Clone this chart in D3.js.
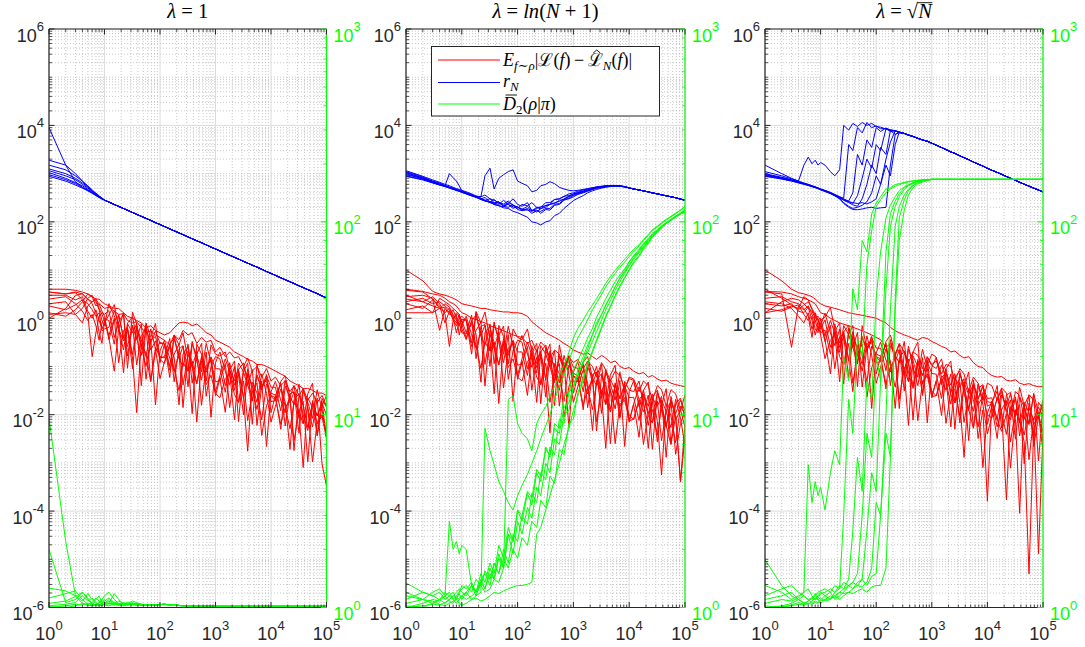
<!DOCTYPE html>
<html>
<head>
<meta charset="utf-8">
<script src="https://cdn.jsdelivr.net/npm/d3@7"></script>
<style>
  html, body { margin: 0; padding: 0; background: #fff; }
  svg { display: block; }
</style>
</head>
<body>
<svg id="fig" width="1085" height="647"></svg>
<script>
// Sample sizes N at which every run was recorded
const sizes = [1,2,3,4,5,6,7,8,9,10,
  12,15,18,22,26,32,38,46,56,68,83,100,
  120,150,180,220,260,320,380,460,560,680,830,1000,
  1200,1500,1800,2200,2600,3200,3800,4600,5600,6800,8300,10000,
  12000,15000,18000,22000,26000,32000,38000,46000,56000,68000,83000,100000];

const leftTicks = [1e-6, 1e-4, 1e-2, 1, 1e2, 1e4, 1e6];
const rightTicks = [1, 10, 100, 1000];
const bottomTicks = [1, 10, 100, 1000, 10000, 100000];

// ---------- λ = 1 ----------
// generalisation gap E|L(f) - L_N(f)|, one row per run
const gap1 = [
[4,4,3.8,3.5,3.2,2.8,2.5,2.5,2.2,2, 1.8,1.6,1.6,1.3,1.1,1,0.9,0.8,0.63,0.7,0.56,0.5, 0.45,0.5,0.63,0.8,0.83,0.8,0.7,0.76,0.63,0.5,0.45,0.35, 0.32,0.28,0.25,0.2,0.18,0.16,0.14,0.13,0.11,0.11,0.1,0.09, 0.08,0.07,0.063,0.05,0.045,0.04,0.035,0.035,0.032,0.028,0.028,0.025],
[3.5,3.2,3.5,3.2,2.5,2.2,2.4,2,1.8,1.6, 1.7,1.4,1.2,1.25,0.9,0.8,0.85,0.63,0.5,0.55,0.45,0.4, 0.35,0.28,0.45,0.36,0.56,0.45,0.5,0.3,0.4,0.32,0.35,0.2, 0.25,0.16,0.2,0.15,0.16,0.1,0.15,0.08,0.1,0.06,0.09,0.05, 0.06,0.04,0.05,0.03,0.04,0.025,0.035,0.02,0.028,0.018,0.025,0.015],
[3.5,3.2,3.4,2.4,1.2,0.16,0.5,1.1,1.3,1.2, 1.44,0.4,0.84,1.24,0.165,0.7,0.36,0.76,0.054,0.35,0.42,0.15, 0.16,0.38,0.048,0.23,0.27,0.08,0.33,0.126,0.052,0.2,0.0088,0.12, 0.2,0.08,0.042,0.1,0.0072,0.1,0.06,0.02,0.064,0.033,0.068,0.011, 0.025,0.005,0.039,0.023,0.04,0.01,0.0008,0.0225,0.014,0.0039,0.0216,0.0143],
[1.0,1.6,3.0,3.2,2.5,2.0,1.3,0.5,0.3,0.9, 0.44,1.0,0.12,0.56,0.62,0.175,0.69,0.25,0.1,0.38,0.016,0.21, 0.35,0.147,0.08,0.19,0.014,0.21,0.126,0.044,0.146,0.076,0.154,0.0245, 0.057,0.0112,0.083,0.05,0.088,0.023,0.00175,0.047,0.028,0.0078,0.043,0.028, 0.0255,0.042,0.0145,0.0051,0.0186,0.0119,0.019,0.00105,0.0196,0.0064,0.01,0.0042],
[1.2,1.3,1.2,1.6,2.6,3.0,2.2,1.5,0.9,0.7, 2.0,1.12,0.59,1.3,0.092,1.33,0.76,0.25,0.8,0.4,0.78,0.12, 0.29,0.059,0.45,0.28,0.5,0.134,0.0105,0.29,0.18,0.05,0.28,0.18, 0.164,0.2,0.088,0.032,0.118,0.077,0.119,0.0063,0.112,0.036,0.057,0.024, 0.0196,0.049,0.064,0.0235,0.016,0.043,0.0067,0.027,0.045,0.0036,0.015,0.025],
[2.0,2.2,1.2,0.8,1.8,2.2,2.6,1.6,1.2,0.9, 0.4,0.08,0.6,0.34,0.58,0.15,0.011,0.3,0.18,0.048,0.25,0.16, 0.15,0.25,0.086,0.0315,0.12,0.08,0.128,0.007,0.13,0.042,0.066,0.0275, 0.0225,0.056,0.07,0.026,0.018,0.05,0.0075,0.029,0.046,0.0037,0.0153,0.025, 0.0224,0.0063,0.0138,0.021,0.0029,0.012,0.0064,0.0143,0.00105,0.0072,0.009,0.0033],
[3.0,3.0,2.4,2.8,1.4,1.0,1.5,0.9,0.6,0.8, 1.17,1.92,0.63,0.22,0.77,0.5,0.77,0.04,0.72,0.22,0.34,0.14, 0.115,0.29,0.38,0.144,0.1,0.29,0.045,0.18,0.3,0.024,0.1,0.16, 0.144,0.04,0.084,0.13,0.018,0.077,0.04,0.086,0.006,0.041,0.051,0.0186, 0.0196,0.045,0.0058,0.027,0.03,0.0085,0.035,0.0135,0.0056,0.022,0.00096,0.00033],
[1.3,1.1,1.5,2.2,3.2,2.8,1.8,2.0,1.4,1.1, 0.36,0.9,1.12,0.4,0.26,0.72,0.108,0.42,0.66,0.051,0.2,0.32, 0.29,0.084,0.18,0.29,0.041,0.18,0.096,0.21,0.0156,0.106,0.132,0.048, 0.05,0.115,0.014,0.068,0.077,0.022,0.088,0.032,0.0128,0.05,0.0022,0.03, 0.049,0.02,0.011,0.025,0.0018,0.026,0.0154,0.0054,0.018,0.0094,0.019,0.0031],
[2.5,2.8,2.0,1.4,0.9,1.2,0.7,0.35,0.8,1.0, 0.89,0.29,1.2,0.39,0.64,0.09,0.65,0.36,0.16,0.6,0.23,0.056, 0.124,0.28,0.154,0.016,0.18,0.26,0.095,0.044,0.164,0.086,0.158,0.09, 0.089,0.029,0.12,0.041,0.07,0.0099,0.072,0.04,0.018,0.07,0.0275,0.007, 0.015,0.034,0.0186,0.0019,0.0205,0.0275,0.01,0.0047,0.0176,0.0094,0.0173,0.0099],
[1.8,1.5,1.9,2.4,2.0,1.5,1.1,1.3,0.55,0.6, 0.65,1.44,0.76,0.074,0.79,1.08,0.38,0.17,0.6,0.31,0.54,0.3, 0.3,0.1,0.43,0.15,0.265,0.038,0.29,0.168,0.078,0.3,0.119,0.03, 0.065,0.144,0.076,0.0078,0.086,0.119,0.042,0.019,0.067,0.0355,0.065,0.037, 0.037,0.012,0.052,0.0176,0.0296,0.0041,0.0307,0.018,0.0084,0.0328,0.013,0.0033]
];
// r_N: early values per run, then the common path from N = 10
const radius1Heads = [
[9000,1500,680,520,450,400,360,330,305],
[1900,1500,1000,700,520,430,380,340,310],
[1500,1200,900,700,560,460,390,345,312],
[1250,1000,800,640,530,440,390,340,308],
[1150,900,750,600,500,430,370,330,305],
[1050,800,650,560,470,410,360,330,300],
[950,750,620,520,450,400,355,320,300],
[880,700,580,500,440,390,350,320,295]
];
const radius1Tail = [282,257,229,209,189,174,156,143,130,118,107,96,88,
  80,71.3,65.1,58.9,54.2,48.6,44.5,40.5,36.8,33.3,29.9,27.4,
  24.9,22.2,20.3,18.3,16.9,15.1,13.9,12.6,11.5,10.4,9.3,8.5,
  7.76,6.9,6.3,5.7,5.26,4.7,4.33,3.93,3.57,3.24,2.9,2.65];
// D2(rho|pi) on the right axis: early values per run, then a common tail from N = 83
const div1Heads = [
[9.6,2.2,1.15,1.05,1.03,1.02,1.04,1.06,1.1,1.15,1.2,1.1,1.05,1.04,1.05,1.08,1.06,1.04,1.03,1.03],
[2.0,1.06,1.1,1.2,1.12,1.05,1.03,1.02,1.04,1.08,1.12,1.06,1.04,1.06,1.04,1.05,1.04,1.03,1.03,1.03],
[1.26,1.22,1.15,1.08,1.18,1.1,1.05,1.03,1.05,1.1,1.05,1.03,1.08,1.05,1.03,1.04,1.05,1.04,1.03,1.03],
[1.12,1.18,1.22,1.1,1.04,1.06,1.12,1.08,1.04,1.03,1.05,1.18,1.1,1.04,1.03,1.06,1.04,1.03,1.03,1.03],
[1.05,1.08,1.14,1.2,1.1,1.04,1.03,1.05,1.1,1.06,1.04,1.06,1.05,1.03,1.04,1.03,1.03,1.04,1.03,1.03],
[1.02,1.04,1.06,1.15,1.08,1.12,1.06,1.03,1.02,1.04,1.08,1.04,1.03,1.05,1.06,1.04,1.03,1.03,1.03,1.03],
[1.0,1.02,1.04,1.03,1.05,1.03,1.1,1.15,1.06,1.03,1.02,1.04,1.03,1.03,1.04,1.05,1.04,1.03,1.03,1.03],
[1.01,1.0,1.02,1.05,1.03,1.02,1.03,1.04,1.02,1.05,1.1,1.05,1.03,1.02,1.03,1.04,1.03,1.03,1.03,1.03]
];
const div1Tail = [1.03,1.035,1.04,1.03,1.035,1.025,1.02,1.022,1.018,1.02,1.017,1.016,1.016,
  1.015,1.015,1.015,1.015,1.015,1.015,1.015,1.015,1.015,1.015,1.015,1.015,1.015,
  1.015,1.015,1.015,1.015,1.015,1.015,1.015,1.015,1.015,1.015,1.015,1.015];

// ---------- λ = ln(N+1) ----------
const gap2 = [
[10,6,3.6,3.2,3.0,2.8,2.6,2.4,2.2,2.0, 1.9,1.8,1.7,1.6,1.6,1.5,1.45,1.4,1.35,1.35,1.3,1.3, 1.25,1.1,0.85,0.7,0.6,0.5,0.45,0.4,0.35,0.3,0.26,0.22, 0.2,0.18,0.19,0.16,0.14,0.17,0.15,0.12,0.13,0.1,0.09,0.095, 0.08,0.07,0.075,0.06,0.065,0.055,0.05,0.052,0.045,0.042,0.04,0.038],
[4,3.6,3.2,3.0,2.6,2.2,2.0,1.8,1.5,1.3, 1.2,1.0,0.95,0.85,0.8,0.7,0.65,0.6,0.55,0.5,0.45,0.42, 0.4,0.3,0.35,0.2,0.32,0.25,0.15,0.22,0.18,0.1,0.16,0.12, 0.14,0.09,0.13,0.1,0.06,0.12,0.085,0.05,0.08,0.065,0.035,0.06, 0.055,0.03,0.05,0.04,0.02,0.04,0.033,0.015,0.033,0.027,0.012,0.026],
[3.8,3.5,2.5,0.56,1.6,1.2,1.5,1.0,0.7,0.9, 0.5,1.17,0.145,0.68,0.74,0.21,0.84,0.31,0.12,0.46,0.019,0.26, 0.44,0.18,0.096,0.225,0.0168,0.25,0.144,0.05,0.16,0.081,0.17,0.028, 0.063,0.0126,0.097,0.057,0.1,0.026,0.002,0.054,0.033,0.009,0.049,0.0325, 0.03,0.05,0.017,0.006,0.0224,0.015,0.024,0.0013,0.024,0.0077,0.0126,0.0055],
[3.0,2.2,2.8,2.0,1.2,0.26,0.9,1.3,1.1,0.7, 1.1,0.455,0.24,0.55,0.039,0.56,0.32,0.107,0.34,0.17,0.34,0.054, 0.126,0.025,0.19,0.1155,0.206,0.055,0.0042,0.1155,0.07,0.019,0.107,0.073, 0.064,0.106,0.036,0.0127,0.047,0.031,0.048,0.0025,0.046,0.0147,0.0227,0.0096, 0.008,0.0206,0.0266,0.0095,0.0067,0.019,0.0029,0.0118,0.0193,0.0015,0.0066,0.0112],
[2.2,2.6,2.0,2.2,1.8,1.5,0.9,0.7,1.0,1.1, 0.9,0.18,1.38,0.8,1.35,0.35,0.027,0.71,0.42,0.113,0.6,0.4, 0.36,0.6,0.2,0.074,0.27,0.18,0.29,0.0154,0.28,0.088,0.143,0.062, 0.049,0.123,0.16,0.058,0.04,0.11,0.0168,0.066,0.106,0.0084,0.034,0.056, 0.0515,0.0147,0.032,0.0476,0.0067,0.0294,0.0157,0.0346,0.0025,0.017,0.022,0.0084],
[1.5,1.8,1.3,1.6,2.0,1.7,1.2,0.9,0.8,0.5, 0.47,0.78,0.26,0.091,0.32,0.21,0.32,0.017,0.3,0.095,0.144,0.06, 0.05,0.126,0.16,0.06,0.042,0.117,0.018,0.0715,0.115,0.009,0.038,0.064, 0.056,0.0158,0.034,0.052,0.0072,0.031,0.016,0.034,0.0025,0.0165,0.02,0.0075, 0.008,0.019,0.0024,0.011,0.0128,0.0038,0.0154,0.0059,0.0024,0.0094,0.00042,0.006],
[1.3,1.3,1.3,2.6,2.2,1.9,1.6,1.4,1.2,0.6, 0.36,0.91,1.16,0.42,0.28,0.76,0.114,0.44,0.69,0.054,0.216,0.35, 0.32,0.09,0.19,0.3,0.042,0.18,0.096,0.21,0.015,0.1,0.128,0.048, 0.049,0.113,0.014,0.068,0.077,0.022,0.088,0.032,0.0132,0.051,0.0022,0.03, 0.05,0.021,0.0114,0.0255,0.0019,0.0285,0.0168,0.0059,0.019,0.0099,0.0004,0.0035],
[2.5,2.2,1.8,1.6,1.3,1.6,1.1,0.5,0.85,0.95, 0.92,0.26,0.56,0.83,0.11,0.47,0.24,0.52,0.036,0.24,0.29,0.106, 0.112,0.26,0.032,0.156,0.18,0.052,0.21,0.079,0.032,0.122,0.0054,0.077, 0.123,0.05,0.027,0.062,0.0046,0.067,0.038,0.013,0.042,0.0216,0.043,0.007, 0.0166,0.0034,0.026,0.015,0.027,0.0072,0.00056,0.0156,0.0096,0.0026,0.015,0.0104],
[2.0,1.6,2.4,1.8,0.8,1.4,1.0,1.2,0.45,0.75, 0.39,0.88,0.47,0.047,0.5,0.68,0.24,0.107,0.38,0.194,0.35,0.2, 0.2,0.065,0.27,0.095,0.164,0.023,0.173,0.099,0.045,0.17,0.069,0.018, 0.038,0.085,0.046,0.0047,0.052,0.071,0.025,0.0113,0.042,0.0216,0.039,0.0225, 0.023,0.0076,0.0325,0.0107,0.0187,0.0027,0.02,0.0117,0.0054,0.0208,0.0085,0.00225],
[2.8,3.0,2.6,1.6,1.7,1.3,1.0,0.8,1.2,0.85, 0.95,0.31,1.32,0.44,0.72,0.1,0.73,0.41,0.18,0.68,0.26,0.066, 0.144,0.32,0.173,0.018,0.2,0.28,0.1,0.046,0.168,0.086,0.163,0.096, 0.092,0.03,0.13,0.044,0.075,0.0106,0.077,0.043,0.02,0.076,0.029,0.0075, 0.0166,0.038,0.0205,0.002,0.023,0.0324,0.0118,0.0055,0.02,0.0106,0.02,0.012]
];
// r_N per run up to N = 1e4, then the shared path
const radius2Heads = [
[900,760,650,580,540,500,470,450,430,410, 380,345,330,290,270,260,228,215,195,190,165,155, 140,125,100,95,86,100,105,135,150,190,230,275, 310,350,400,440,470,500,520,540,550,545,530,505],
[1100,850,700,640,560,1000,820,700,560,440, 400,370,330,310,280,300,250,260,215,230,190,210, 170,180,150,170,165,190,190,230,240,290,300,330, 370,400,430,470,500,520,540,555,560,555,535,505],
[1050,820,680,610,560,520,490,465,445,425, 395,360,335,330,900,1300,480,800,950,1100,1200,700, 630,560,420,450,560,600,680,620,520,480,450,440, 450,470,490,510,530,545,555,565,565,555,535,505],
[1150,880,740,660,600,560,520,490,470,450, 420,380,345,330,360,300,280,250,235,270,220,200, 185,175,165,190,205,215,230,250,265,300,340,380, 410,440,470,500,525,545,560,570,570,560,540,510],
[950,800,690,610,570,530,500,470,450,425, 395,355,330,300,280,255,290,240,220,250,225,200, 180,210,175,160,190,200,230,240,280,290,330,360, 390,420,450,480,505,525,540,555,560,550,530,505],
[1000,780,660,590,550,510,480,455,435,415, 385,350,325,295,275,265,245,230,280,230,205,190, 230,215,250,200,185,220,230,290,300,340,350,375, 400,430,460,490,515,535,550,560,565,555,535,505],
[1050,800,680,600,560,520,490,460,440,420, 390,355,330,300,320,255,240,260,210,200,225,180, 170,190,170,200,200,250,250,290,300,335,380,400, 430,460,480,505,525,540,555,565,565,555,535,505],
[880,740,640,580,540,505,475,450,430,410, 380,345,320,292,272,250,232,218,205,240,300,230, 210,250,170,175,150,180,175,220,230,280,310,350, 380,410,440,470,500,520,540,550,555,550,530,505]
];
const radius2Tail = [480,458,438,418,398,380,363,347,331,316,296,282];
const div2 = [
[1.0,1.05,1.1,1.08,1.15,2.8,2.0,2.2,1.9,2.1, 2.0,1.3,1.2,1.35,1.25,1.5,1.4,1.8,1.6,2.4,2.2,3.2, 3.0,4.0,3.7,5.2,4.8,6.6,6.2,8.5,8.0,11,11.5,14, 16,19,22,26,29,33,37,41,46,51,56,62, 67,72,77,82,87,91,95,99,103,107,111,115],
[1.34,1.2,1.15,1.2,1.1,1.15,1.2,1.1,1.12,1.15, 1.2,1.1,1.15,1.2,8.5,6.5,5.5,4.5,4.0,3.5,3.2,3.8, 4.3,4.9,5.6,6.5,7.5,8.8,10,12,14,16,19,22, 25,28,31,35,38,42,46,50,54,58,62,66, 70,75,80,85,90,94,98,102,106,110,115,120],
[1.2,1.1,1.05,1.1,1.2,1.15,1.1,1.05,1.1,1.15, 1.1,1.15,1.2,1.3,1.2,1.25,1.4,1.35,1.6,12,12.5,9, 8,7.5,6.5,9,10,11,12.5,14,16,18,21,25, 28,31,34,37,40,44,48,52,56,60,64,68, 72,76,81,86,91,95,99,103,107,111,115,120],
[1.05,1.1,1.08,1.04,1.02,1.05,1.08,1.1,1.05,1.03, 1.05,1.1,1.12,1.08,1.1,1.15,1.2,1.18,1.22,1.25,1.28,1.3, 1.3,1.32,1.35,2.4,2.6,3.2,3.8,4.6,5.6,7,8.5,10.5, 12.5,15,18,21,24,28,32,36,41,46,51,56, 61,66,72,77,83,88,93,98,102,106,110,112],
[1.1,1.2,1.15,1.1,1.05,1.1,1.15,1.2,1.25,1.2, 1.15,1.3,1.2,1.4,1.25,1.6,1.4,1.9,1.6,2.4,1.9,2.8, 2.4,3.3,2.9,4.2,3.8,5.6,5.0,7.5,7.0,10,10.5,14, 16,18.5,21,24,27,31,35,39,44,49,54,59, 64,69,74,79,84,89,94,98,102,106,110,114],
[1.02,1.0,1.05,1.1,1.15,1.08,1.05,1.12,1.18,1.1, 1.2,1.3,1.15,1.35,1.5,1.3,1.7,1.5,2.0,1.7,2.4,2.2, 3.0,2.7,3.9,3.5,5.0,4.6,6.8,6.2,9.5,9,13,14, 17,20,23,26,30,33,37,41,46,51,55,60, 65,70,75,80,85,90,94,98,102,106,110,113],
[1.15,1.1,1.2,1.25,1.15,1.2,1.1,1.15,1.2,1.3, 1.25,1.35,1.2,1.5,1.35,1.7,1.5,2.1,1.8,2.6,2.2,3.2, 2.8,3.9,3.4,5.0,4.5,6.8,6.0,9.0,8.5,12.5,13,17, 19,22,25,28,32,36,40,44,49,53,57,62, 66,71,76,81,86,91,95,99,103,107,111,117],
[1.0,1.02,1.04,1.03,1.06,1.1,1.15,1.1,1.2,1.25, 1.3,1.2,1.4,1.3,1.55,1.4,1.7,1.5,1.8,1.6,2.0,1.8, 2.3,2.1,2.8,2.6,3.6,3.3,4.8,4.4,6.6,6.2,9.0,9.5, 13,15.5,18.5,21.5,24.5,28.5,32.5,36.5,41.5,46.5,51.5,56.5, 62,67,73,78,84,89,94,98,102,106,110,113]
];

// ---------- λ = sqrt(N) ----------
const gap3 = [
[10,6,4,3.4,3.2,3.0,2.8,2.5,2.2,2.0, 1.8,1.7,1.6,1.5,1.4,1.3,1.25,1.2,1.15,1.1,1.05,1.0, 0.9,0.8,0.65,0.55,0.5,0.45,0.42,0.38,0.35,0.4,0.38,0.33, 0.3,0.26,0.24,0.2,0.21,0.17,0.15,0.16,0.12,0.1,0.095,0.075, 0.065,0.06,0.062,0.052,0.05,0.053,0.045,0.042,0.044,0.04,0.038,0.038],
[3.6,3.5,3.2,2.8,2.6,2.4,2.2,2.0,1.6,1.3, 1.2,1.0,0.9,0.8,0.75,0.7,0.65,0.6,0.55,0.5,0.45,0.4, 0.36,0.25,0.3,0.18,0.3,0.2,0.12,0.2,0.17,0.09,0.16,0.11, 0.13,0.07,0.11,0.1,0.05,0.09,0.07,0.03,0.06,0.045,0.02,0.045, 0.04,0.02,0.036,0.028,0.01,0.03,0.025,0.008,0.026,0.02,0.009,0.02],
[3.5,3.2,0.25,1.8,1.5,1.8,1.2,0.9,0.55,0.7, 1.28,0.5,0.27,0.6,0.043,0.63,0.36,0.12,0.4,0.21,0.42,0.07, 0.162,0.034,0.27,0.165,0.29,0.078,0.006,0.165,0.1,0.027,0.153,0.104, 0.091,0.144,0.048,0.0165,0.059,0.037,0.056,0.0029,0.052,0.016,0.024,0.0099, 0.0085,0.0224,0.03,0.0112,0.0078,0.0234,0.0036,0.0156,0.0253,0.0022,0.009,0.016],
[2.6,2.8,2.2,2.0,1.6,1.1,0.4,1.3,0.9,0.75, 0.365,0.07,0.54,0.31,0.53,0.139,0.03,0.28,0.175,0.048,0.265,0.18, 0.164,0.286,0.1,0.037,0.137,0.091,0.143,0.0077,0.14,0.044,0.071,0.031, 0.0245,0.059,0.074,0.026,0.0176,0.047,0.0069,0.026,0.042,0.0032,0.0126,0.00016, 0.019,0.0056,0.0126,0.0196,0.0027,0.0127,0.0067,0.016,0.00116,0.0085,0.000013,0.0042],
[1.3,2.2,2.6,2.4,2.0,1.6,1.4,1.0,1.1,0.9, 1.06,1.68,0.57,0.196,0.7,0.46,0.71,0.038,0.7,0.225,0.35,0.154, 0.126,0.33,0.45,0.168,0.118,0.33,0.05,0.2,0.32,0.025,0.107,0.18, 0.157,0.042,0.089,0.13,0.0176,0.072,0.037,0.077,0.0055,0.035,0.042,0.015, 0.0167,0.04,0.0053,0.0255,0.029,0.0091,0.037,0.015,0.0062,0.026,0.0011,0.0168],
[4.0,2.6,1.9,1.5,1.9,2.2,1.6,1.2,0.7,0.45, 0.145,0.35,0.45,0.16,0.108,0.3,0.045,0.175,0.29,0.023,0.095,0.16, 0.144,0.0425,0.096,0.15,0.021,0.091,0.048,0.1045,0.0075,0.0495,0.064,0.024, 0.0245,0.054,0.0066,0.0305,0.0336,0.0093,0.036,0.013,0.0052,0.0196,0.0008,0.0108, 0.0187,0.008,0.0045,0.0105,0.00078,0.0124,0.0072,0.0027,0.000005,0.005,0.01,0.00175],
[1.3,1.5,1.8,1.6,2.8,2.4,1.5,1.1,0.95,0.6, 0.93,0.25,0.54,0.8,0.108,0.46,0.24,0.51,0.0375,0.25,0.315,0.12, 0.126,0.306,0.04,0.195,0.224,0.065,0.264,0.099,0.04,0.153,0.0068,0.096, 0.154,0.06,0.032,0.07,0.005,0.07,0.04,0.013,0.042,0.0207,0.04,0.0063, 0.0153,0.0032,0.0255,0.0154,0.027,0.0078,0.00009,0.018,0.011,0.0033,0.018,0.013],
[2.0,1.8,2.0,1.4,1.3,1.7,0.9,0.45,0.75,0.8, 0.325,0.72,0.09,0.416,0.46,0.132,0.53,0.194,0.08,0.31,0.0134,0.19, 0.317,0.136,0.077,0.18,0.0134,0.198,0.115,0.04,0.128,0.065,0.136,0.0224, 0.05,0.0096,0.072,0.041,0.0706,0.0178,0.0013,0.035,0.0208,0.0055,0.0288,0.0187, 0.0177,0.0307,0.0108,0.0039,0.0146,0.0104,0.0163,0.00096,0.0176,0.0062,0.0096,0.0044],
[2.2,2.0,1.6,1.1,0.8,1.3,0.6,0.9,1.0,0.5, 0.57,0.18,0.77,0.25,0.42,0.06,0.43,0.24,0.11,0.43,0.17,0.045, 0.097,0.23,0.13,0.0135,0.15,0.21,0.076,0.035,0.126,0.065,0.122,0.072, 0.069,0.0216,0.09,0.03,0.049,0.0067,0.0475,0.026,0.0117,0.0435,0.0162,0.004, 0.0092,0.0216,0.012,0.00017,0.014,0.021,0.0076,0.0038,0.0139,0.0079,0.0144,0.009],
[1.6,1.4,1.7,1.9,1.2,0.9,1.1,0.6,0.5,1.0, 0.42,0.9,0.49,0.048,0.52,0.71,0.25,0.113,0.42,0.22,0.4,0.24, 0.24,0.082,0.36,0.126,0.22,0.031,0.23,0.132,0.06,0.227,0.092,0.024, 0.05,0.108,0.057,0.0056,0.06,0.08,0.028,0.0122,0.044,0.022,0.038,0.0216, 0.0224,0.0077,0.034,0.0118,0.0203,0.0031,0.023,0.0144,0.0066,0.0277,0.0108,0.003]
];
// r_N per run up to N = 320, then the shared path
const radius3Heads = [
[1100,900,780,700,1500,2200,1600,1900,1500,1700, 1500,1100,900,1200,10000,8000,11000,9500,11500,10000,11000,9500, 9200,8400,8200,7600,7300,6800],
[950,820,730,670,620,585,555,525,500,475, 445,400,365,330,310,4000,3000,9000,7000,11500,9000,9800, 8500,8700,7800,7700,7100,6800],
[900,790,710,650,610,575,540,515,490,465, 430,390,355,320,290,270,400,2500,1500,5000,3500,9000, 7500,8800,8000,7800,7200,6800],
[1000,840,750,680,630,590,560,530,505,480, 450,410,370,330,300,265,240,350,800,2000,1300,4000, 3000,8500,7500,7800,7300,6800],
[880,770,700,640,600,565,535,510,485,460, 425,385,345,310,280,250,225,210,300,600,1500,1000, 3500,2500,7800,6500,7200,6800],
[920,800,720,660,615,580,548,520,495,470, 435,390,350,300,250,210,190,200,220,260,400,900, 600,2000,4500,7700,7000,6800],
[1500,1000,800,700,640,600,560,530,505,480, 440,400,360,320,285,260,250,240,250,235,260,300, 600,1500,900,4000,7300,6850],
[960,810,725,665,620,582,550,522,498,472, 438,395,355,300,240,200,180,178,185,195,200,190, 195,200,1500,6500,7200,6800]
];
const radius3Tail = [6300,5900,5400,5000,4700,4270,
  3900,3470,3160,2820,2630,2340,2140,1950,1740,1580,1430,1290,
  1175,1060,967,871,803,724,661,603,549,501,457,417];
// D2 per run up to N = 830, then the common plateau
const div3Heads = [
[1.3,1.2,1.1,1.15,1.2,5.5,3.5,4.5,3.8,4.2, 3.2,5.0,6.5,5.5,20,15,45,35,80,70,110,125, 135,148,150,156,158,160,162,163,164,165,165.5],
[1.77,1.3,1.15,1.1,1.05,1.08,1.12,1.1,1.15,1.2, 1.15,1.1,1.2,1.25,3,12,8,25,20,60,90,120, 130,142,148,153,156,159,161,163,164,165,166],
[1.1,1.15,1.2,1.1,1.06,1.04,1.08,1.12,1.1,1.05, 1.1,1.15,1.12,1.2,1.25,1.4,2.5,6,4,15,12,40, 70,105,122,135,145,152,156,160,163,164,165],
[1.0,1.02,1.05,1.1,1.15,1.1,1.05,1.08,1.06,1.1, 1.15,1.2,1.1,1.15,1.2,1.3,1.35,1.5,3,8,6,20, 15,70,110,128,140,150,155,159,162,164,165],
[1.05,1.1,1.08,1.12,1.2,1.25,1.15,1.1,1.12,1.18, 1.2,1.25,1.2,1.3,1.25,1.3,1.35,1.3,1.4,2.5,5,4, 15,45,95,120,135,147,154,158,162,164,165],
[1.02,1.0,1.03,1.06,1.04,1.08,1.12,1.18,1.1,1.12, 1.08,1.1,1.15,1.2,1.18,1.2,1.25,1.3,1.28,1.35,1.6,3.5, 3,10,35,95,120,138,148,155,160,163,165],
[1.15,1.25,1.3,1.2,1.15,1.1,1.12,1.15,1.2,1.22, 1.25,1.2,1.3,1.25,1.35,1.3,1.25,1.35,1.4,1.3,1.45,1.5, 3,8,6,40,105,130,145,154,159,162,164],
[1.0,1.01,1.02,1.04,1.03,1.05,1.04,1.06,1.05,1.08, 1.1,1.12,1.15,1.1,1.15,1.2,1.18,1.22,1.25,1.2,1.28,1.3, 1.3,1.6,6,35,80,115,138,150,157,161,164]
];
const div3Tail = [166,166,166,166,166,166,166,166,166,166,166,166,166,
  166,166,166,166,166,166,166,166,166,166,166,166];

// ---------- drawing ----------
const RED = '#ff0000', BLUE = '#0000ff', GREEN = '#00ff00', INK = '#262626';
const TOP = 29, BOTTOM = 607.5;
const svg = d3.select('#fig');

const panels = [
  { x0: 49,  x1: 326.5, title: 'one',  red: gap1,
    blue: radius1Heads.map(h => h.concat(radius1Tail)),
    green: div1Heads.map(h => h.concat(div1Tail)) },
  { x0: 406, x1: 685,   title: 'log',  red: gap2,
    blue: radius2Heads.map(h => h.concat(radius2Tail)),
    green: div2 },
  { x0: 765, x1: 1043,  title: 'sqrt', red: gap3,
    blue: radius3Heads.map(h => h.concat(radius3Tail)),
    green: div3Heads.map(h => h.concat(div3Tail)) }
];

function minorValues(loExp, hiExp) {
  const out = [];
  for (let k = loExp; k < hiExp; k++) {
    for (let m = 2; m <= 9; m++) out.push(m * Math.pow(10, k));
  }
  return out;
}

function powerLabel(textSel, exp) {
  textSel.append('tspan').text('10');
  textSel.append('tspan').attr('dy', -10.5).attr('font-size', 13).text(String(exp));
}

panels.forEach((p, idx) => {
  const x = d3.scaleLog().domain([1, 1e5]).range([p.x0, p.x1]);
  const yL = d3.scaleLog().domain([1e-6, 1e6]).range([BOTTOM, TOP]);
  const yR = d3.scaleLog().domain([1, 1e3]).range([BOTTOM, TOP]);
  const g = svg.append('g');

  const clipId = 'clip' + idx;
  svg.append('clipPath').attr('id', clipId).append('rect')
    .attr('x', p.x0).attr('y', TOP).attr('width', p.x1 - p.x0).attr('height', BOTTOM - TOP);

  // minor grid (dotted)
  const xMinor = minorValues(0, 5);
  const yMinor = minorValues(-6, 6).concat([1e-5, 1e-3, 1e-1, 1e1, 1e3, 1e5]);
  const grid = g.append('g');
  grid.selectAll('.vx').data(xMinor).join('line')
    .attr('x1', d => x(d)).attr('x2', d => x(d)).attr('y1', TOP).attr('y2', BOTTOM)
    .attr('stroke', '#c2c2c2').attr('stroke-width', 0.9).attr('stroke-dasharray', '1 2');
  grid.selectAll('.hy').data(yMinor).join('line')
    .attr('y1', d => yL(d)).attr('y2', d => yL(d)).attr('x1', p.x0).attr('x2', p.x1)
    .attr('stroke', '#c2c2c2').attr('stroke-width', 0.9).attr('stroke-dasharray', '1 2');
  // major grid
  grid.selectAll('.mx').data(bottomTicks).join('line')
    .attr('x1', d => x(d)).attr('x2', d => x(d)).attr('y1', TOP).attr('y2', BOTTOM)
    .attr('stroke', '#dcdcdc').attr('stroke-width', 1);
  grid.selectAll('.my').data(leftTicks).join('line')
    .attr('y1', d => yL(d)).attr('y2', d => yL(d)).attr('x1', p.x0).attr('x2', p.x1)
    .attr('stroke', '#dcdcdc').attr('stroke-width', 1);

  // curves
  const plot = g.append('g').attr('clip-path', `url(#${clipId})`);
  const lineL = d3.line().x(d => x(d[0])).y(d => yL(d[1]));
  const lineR = d3.line().x(d => x(d[0])).y(d => yR(d[1]));
  const toPts = run => run.map((v, i) => [sizes[i], v]);
  const drawSet = (runs, gen, color) => {
    plot.append('g').selectAll('path').data(runs).join('path')
      .attr('d', r => gen(toPts(r)))
      .attr('fill', 'none').attr('stroke', color).attr('stroke-width', 1)
      .attr('stroke-linejoin', 'round');
  };
  drawSet(p.red, lineL, RED);
  drawSet(p.blue, lineL, BLUE);
  drawSet(p.green, lineR, GREEN);

  // frame
  const frame = g.append('g');
  frame.append('line').attr('x1', p.x0).attr('x2', p.x1).attr('y1', TOP).attr('y2', TOP)
    .attr('stroke', INK).attr('stroke-width', 1);
  frame.append('line').attr('x1', p.x0).attr('x2', p.x1).attr('y1', BOTTOM).attr('y2', BOTTOM)
    .attr('stroke', INK).attr('stroke-width', 1.2);
  frame.append('line').attr('x1', p.x0).attr('x2', p.x0).attr('y1', TOP).attr('y2', BOTTOM)
    .attr('stroke', INK).attr('stroke-width', 1.2);
  frame.append('line').attr('x1', p.x1).attr('x2', p.x1).attr('y1', TOP).attr('y2', BOTTOM)
    .attr('stroke', GREEN).attr('stroke-width', 1.2);

  const MAJ = 5.5, MIN = 3;
  // x ticks, bottom and top
  [[BOTTOM, -1], [TOP, 1]].forEach(([yy, dir]) => {
    frame.selectAll(null).data(bottomTicks).join('line')
      .attr('x1', d => x(d)).attr('x2', d => x(d)).attr('y1', yy).attr('y2', yy + dir * MAJ)
      .attr('stroke', INK).attr('stroke-width', 1);
    frame.selectAll(null).data(xMinor).join('line')
      .attr('x1', d => x(d)).attr('x2', d => x(d)).attr('y1', yy).attr('y2', yy + dir * MIN)
      .attr('stroke', INK).attr('stroke-width', 0.8);
  });
  // left ticks
  frame.selectAll(null).data(leftTicks).join('line')
    .attr('y1', d => yL(d)).attr('y2', d => yL(d)).attr('x1', p.x0).attr('x2', p.x0 + MAJ)
    .attr('stroke', INK).attr('stroke-width', 1);
  frame.selectAll(null).data(yMinor).join('line')
    .attr('y1', d => yL(d)).attr('y2', d => yL(d)).attr('x1', p.x0).attr('x2', p.x0 + MIN)
    .attr('stroke', INK).attr('stroke-width', 0.8);
  // right ticks (green axis)
  frame.selectAll(null).data(rightTicks).join('line')
    .attr('y1', d => yR(d)).attr('y2', d => yR(d)).attr('x1', p.x1).attr('x2', p.x1 - MAJ)
    .attr('stroke', GREEN).attr('stroke-width', 1);
  frame.selectAll(null).data(minorValues(0, 3)).join('line')
    .attr('y1', d => yR(d)).attr('y2', d => yR(d)).attr('x1', p.x1).attr('x2', p.x1 - MIN)
    .attr('stroke', GREEN).attr('stroke-width', 0.8);

  // tick labels
  const lab = g.append('g').attr('font-family', "'Liberation Sans', Arial, sans-serif")
    .attr('font-size', 18);
  bottomTicks.forEach(t => {
    const tx = lab.append('text').attr('x', x(t)).attr('y', BOTTOM + 32.5)
      .attr('text-anchor', 'middle').attr('fill', INK);
    powerLabel(tx, Math.round(Math.log10(t)));
  });
  leftTicks.forEach(t => {
    const tx = lab.append('text').attr('x', p.x0 - 5).attr('y', yL(t) + 12.5)
      .attr('text-anchor', 'end').attr('fill', INK);
    powerLabel(tx, Math.round(Math.log10(t)));
  });
  rightTicks.forEach(t => {
    const tx = lab.append('text').attr('x', p.x1 + 7).attr('y', yR(t) + 12.5)
      .attr('text-anchor', 'start').attr('fill', GREEN);
    powerLabel(tx, Math.round(Math.log10(t)));
  });

  // title
  const cx = (p.x0 + p.x1) / 2;
  const tt = g.append('text').attr('x', cx).attr('y', 18).attr('text-anchor', 'middle')
    .attr('font-family', "'Liberation Serif', 'DejaVu Serif', serif").attr('font-size', 20.5)
    .attr('fill', '#000');
  tt.append('tspan').attr('font-style', 'italic').text('λ');
  if (p.title === 'one') {
    tt.append('tspan').text(' = 1');
  } else if (p.title === 'log') {
    tt.append('tspan').text(' = ');
    tt.append('tspan').attr('font-style', 'italic').text('ln');
    tt.append('tspan').text('(');
    tt.append('tspan').attr('font-style', 'italic').text('N');
    tt.append('tspan').text(' + 1)');
  } else {
    tt.append('tspan').text(' = √');
    tt.append('tspan').attr('font-style', 'italic').text('N');
    const node = tt.node();
    const n = node.getNumberOfChars();
    const rad = node.getEndPositionOfChar(n - 2);
    const end = node.getEndPositionOfChar(n - 1);
    g.append('line').attr('x1', rad.x - 0.5).attr('x2', end.x + 0.5)
      .attr('y1', 18 - 15.3).attr('y2', 18 - 15.3)
      .attr('stroke', '#000').attr('stroke-width', 0.9);
  }
});

// legend in the middle panel
(function legend() {
  const lg = svg.append('g');
  lg.append('rect').attr('x', 431.5).attr('y', 46.5).attr('width', 228).attr('height', 69.5)
    .attr('fill', '#fff').attr('stroke', INK).attr('stroke-width', 1);
  const rows = [
    { y: 60, color: RED },
    { y: 82.5, color: BLUE },
    { y: 104, color: GREEN }
  ];
  rows.forEach(r => {
    lg.append('line').attr('x1', 438).attr('x2', 500).attr('y1', r.y).attr('y2', r.y)
      .attr('stroke', r.color).attr('stroke-width', 1);
  });
  const font = "'Liberation Serif', 'DejaVu Serif', serif";
  const FS = 18, SS = 13, SUB = 4;

  const t1 = lg.append('text').attr('x', 503).attr('y', 66).attr('font-family', font).attr('font-size', FS);
  t1.append('tspan').attr('font-style', 'italic').text('E');
  t1.append('tspan').attr('font-size', SS).attr('dy', SUB).attr('font-style', 'italic').text('f');
  t1.append('tspan').attr('font-size', SS).text('∼');
  t1.append('tspan').attr('font-size', SS).attr('font-style', 'italic').text('ρ');
  t1.append('tspan').attr('dy', -SUB).text('|ℒ(');
  t1.append('tspan').attr('font-style', 'italic').text('f');
  t1.append('tspan').text(')\u2009−\u2009ℒ');
  t1.append('tspan').attr('font-size', SS).attr('dy', SUB).attr('font-style', 'italic').text('N');
  t1.append('tspan').attr('dy', -SUB).text('(');
  t1.append('tspan').attr('font-style', 'italic').text('f');
  t1.append('tspan').text(')|');
  // hat over the second script L
  const n1 = t1.node();
  const li = n1.textContent.lastIndexOf('ℒ');
  const hs = n1.getStartPositionOfChar(li), he = n1.getEndPositionOfChar(li);
  const hx = (hs.x + he.x) / 2 + 1.5, hy = 66 - 16;
  lg.append('path').attr('d', `M${hx - 3.5},${hy + 3}L${hx},${hy}L${hx + 3.5},${hy + 3}`)
    .attr('fill', 'none').attr('stroke', '#000').attr('stroke-width', 0.9);

  const t2 = lg.append('text').attr('x', 503).attr('y', 86.5).attr('font-family', font).attr('font-size', FS);
  t2.append('tspan').attr('font-style', 'italic').text('r');
  t2.append('tspan').attr('font-size', SS).attr('dy', SUB).attr('font-style', 'italic').text('N');

  const t3 = lg.append('text').attr('x', 503).attr('y', 110).attr('font-family', font).attr('font-size', FS);
  t3.append('tspan').attr('font-style', 'italic').text('D');
  t3.append('tspan').attr('font-size', SS).attr('dy', SUB).text('2');
  t3.append('tspan').attr('dy', -SUB).text('(');
  t3.append('tspan').attr('font-style', 'italic').text('ρ');
  t3.append('tspan').text('|');
  t3.append('tspan').attr('font-style', 'italic').text('π');
  t3.append('tspan').text(')');
  // bar over D
  const n3 = t3.node();
  const ds = n3.getStartPositionOfChar(0), de = n3.getEndPositionOfChar(0);
  lg.append('line').attr('x1', ds.x + 2.5).attr('x2', de.x + 1).attr('y1', 110 - 15).attr('y2', 110 - 15)
    .attr('stroke', '#000').attr('stroke-width', 0.9);
})();
</script>
</body>
</html>
